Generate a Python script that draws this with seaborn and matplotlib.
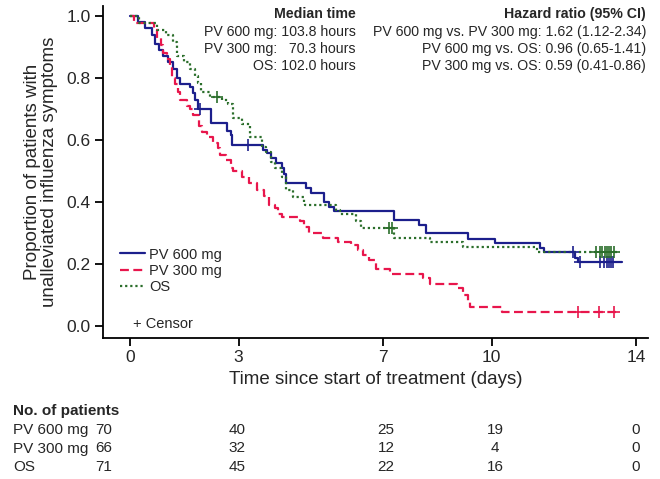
import numpy as np
import pandas as pd
import matplotlib
matplotlib.use("Agg")
import matplotlib.pyplot as plt
import seaborn as sns
from matplotlib.lines import Line2D
from matplotlib import font_manager

sns.set_theme(style="ticks")
plt.rcParams['font.family'] = ['Liberation Sans', 'DejaVu Sans']

# ---- data ----
pv600_t = [0, 0.22, 0.4, 0.6, 0.69, 0.8, 0.92, 1.05, 1.2, 1.3, 1.39, 1.67, 1.75, 1.8, 1.88,
           2.25, 2.69, 2.78, 2.83, 3.67, 3.8, 3.9, 4.05, 4.2, 4.25, 4.3, 4.86, 5.0, 5.36, 5.5,
           5.64, 7.3, 8.0, 8.2, 9.36, 10.1, 11.33, 11.45, 12.3, 12.4, 13.6]
pv600_s = [1.0, 0.98, 0.96, 0.94, 0.91, 0.89, 0.87, 0.85, 0.83, 0.80, 0.78, 0.77, 0.75, 0.73, 0.70,
           0.655, 0.63, 0.615, 0.584, 0.568, 0.558, 0.542, 0.526, 0.51, 0.49, 0.46, 0.445, 0.43, 0.40, 0.385,
           0.37, 0.343, 0.326, 0.30, 0.28, 0.267, 0.25, 0.238, 0.22, 0.206, 0.206]
pv600_cens_t = [1.94, 3.25, 12.25, 12.45, 13.0, 13.1, 13.2, 13.25, 13.3, 13.35]
pv600_cens_s = [0.70, 0.584, 0.238, 0.206, 0.206, 0.206, 0.206, 0.206, 0.206, 0.206]

pv300_t = [0, 0.1, 0.65, 0.75, 0.85, 0.92, 1.02, 1.1, 1.17, 1.25, 1.33, 1.39, 1.58, 1.65, 1.75,
           1.9, 2.0, 2.13, 2.28, 2.42, 2.5, 2.64, 2.78, 2.86, 3.1, 3.3, 3.5, 3.7, 3.85, 4.0,
           4.1, 4.2, 4.7, 4.8, 4.95, 5.35, 5.75, 6.1, 6.3, 6.45, 6.6, 6.8, 7.2, 8.1, 8.3,
           9.05, 9.2, 9.35, 9.4, 10.3, 13.45]
pv300_s = [1.0, 0.977, 0.955, 0.93, 0.905, 0.88, 0.86, 0.84, 0.80, 0.78, 0.755, 0.73, 0.71, 0.70, 0.68,
           0.645, 0.625, 0.61, 0.59, 0.575, 0.55, 0.535, 0.51, 0.50, 0.48, 0.46, 0.44, 0.42, 0.39, 0.38,
           0.36, 0.35, 0.34, 0.32, 0.30, 0.284, 0.27, 0.26, 0.245, 0.23, 0.213, 0.184, 0.168, 0.155, 0.135,
           0.123, 0.10, 0.08, 0.061, 0.045, 0.045]
pv300_cens_t = [12.4, 12.97, 13.4]
pv300_cens_s = [0.045, 0.045, 0.045]

os_t = [0, 0.25, 0.75, 1.0, 1.2, 1.3, 1.5, 1.65, 1.8, 1.88, 1.95, 2.2, 2.55, 2.7, 2.85,
        3.1, 3.33, 3.65, 3.75, 3.9, 4.0, 4.2, 4.3, 4.5, 4.8, 4.85, 5.7, 5.8, 6.25, 6.4,
        7.3, 8.3, 9.2, 11.25, 13.55]
os_s = [1.0, 0.977, 0.955, 0.94, 0.915, 0.87, 0.85, 0.83, 0.805, 0.785, 0.755, 0.74, 0.73, 0.715, 0.67,
        0.65, 0.61, 0.577, 0.56, 0.53, 0.51, 0.48, 0.44, 0.416, 0.40, 0.39, 0.375, 0.36, 0.34, 0.316,
        0.284, 0.27, 0.255, 0.24, 0.24]
os_cens_t = [2.4, 7.15, 7.25, 12.9, 13.0, 13.05, 13.15, 13.2, 13.25, 13.3, 13.4]
os_cens_s = [0.74, 0.316, 0.316, 0.24, 0.24, 0.24, 0.24, 0.24, 0.24, 0.24, 0.24]

x_ticks = [0, 3, 7, 10, 14]
y_ticks = [0.0, 0.2, 0.4, 0.6, 0.8, 1.0]

groups = ["PV 600 mg", "PV 300 mg", "OS"]
risk_pv600 = [70, 40, 25, 19, 0]
risk_pv300 = [66, 32, 12, 4, 0]
risk_os = [71, 45, 22, 16, 0]

median_lines = ["PV 600 mg: 103.8 hours", "PV 300 mg:   70.3 hours", "OS: 102.0 hours"]
hr_lines = ["PV 600 mg vs. PV 300 mg: 1.62 (1.12-2.34)",
            "PV 600 mg vs. OS: 0.96 (0.65-1.41)",
            "PV 300 mg vs. OS: 0.59 (0.41-0.86)"]

col_blue = "#1c1f8c"
col_red = "#e8164c"
col_green = "#2b6e2b"

installed = {f.name for f in font_manager.fontManager.ttflist}
narrow = ['Liberation Sans Narrow', 'Liberation Sans'] if 'Liberation Sans Narrow' in installed else ['Liberation Sans']
table_fs = 12.5 if 'Liberation Sans Narrow' in installed else 11

W, H = 660, 479
fig = plt.figure(figsize=(W / 100, H / 100), dpi=100)
ax = fig.add_axes([103 / W, 1 - 338 / H, (648 - 103) / W, (338 - 6) / H])

def fx(px):
    return px / W

def fy(py):
    return 1 - py / H

series = [
    (pv600_t, pv600_s, pv600_cens_t, pv600_cens_s, col_blue, "-", "PV 600 mg"),
    (pv300_t, pv300_s, pv300_cens_t, pv300_cens_s, col_red, (0, (4, 2)), "PV 300 mg"),
    (os_t, os_s, os_cens_t, os_cens_s, col_green, (0, (1, 1.3)), "OS"),
]
for t, s, ct, cs, c, ls, name in series:
    df = pd.DataFrame({"t": t, "s": s})
    sns.lineplot(data=df, x="t", y="s", ax=ax, color=c, linestyle=ls, linewidth=1.6,
                 drawstyle="steps-post", estimator=None, sort=False, legend=False)
    dc = pd.DataFrame({"t": ct, "s": cs})
    sns.scatterplot(data=dc, x="t", y="s", ax=ax, color=c, marker="+", s=70,
                    linewidth=1.2, legend=False, zorder=5)

ax.set_xlim(-0.75, 14.33)
ax.set_ylim(-0.039, 1.032)
ax.set_xticks(x_ticks)
ax.set_xticklabels([str(v) for v in x_ticks], fontsize=12.5)
ax.set_yticks(y_ticks)
ax.set_yticklabels([f"{v:.1f}" for v in y_ticks], fontsize=12.5)
ax.tick_params(direction="out", length=6, width=1.3, color="black", pad=3)
for sp in ["top", "right"]:
    ax.spines[sp].set_visible(False)
for sp in ["left", "bottom"]:
    ax.spines[sp].set_linewidth(1.3)
    ax.spines[sp].set_color("black")
ax.set_xlabel("Time since start of treatment (days)", fontsize=13.5, labelpad=4)
ax.set_ylabel("Proportion of patients with\nunalleviated influenza symptoms", fontsize=13.5,
              labelpad=6, linespacing=1.0)

# legend
handles = [Line2D([], [], color=col_blue, linestyle="-", linewidth=1.6),
           Line2D([], [], color=col_red, linestyle=(0, (4, 2)), linewidth=1.6),
           Line2D([], [], color=col_green, linestyle=(0, (1, 1.3)), linewidth=1.6)]
leg = ax.legend(handles, groups, loc="upper left", bbox_to_anchor=(0.02, 0.29),
                frameon=False, fontsize=10.5, handlelength=1.7, handletextpad=0.3,
                labelspacing=0.15, borderaxespad=0)
fig.text(fx(133), fy(324), "+ Censor", fontsize=10.5, va="center", ha="left")

# annotations
ann_fs = 10.2
fig.text(fx(356), fy(14), "Median time", fontsize=ann_fs, fontweight="bold", ha="right", va="center")
for i, line in enumerate(median_lines):
    fig.text(fx(356), fy(32 + i * 17), line, fontsize=ann_fs, ha="right", va="center")
fig.text(fx(646), fy(14), "Hazard ratio (95% CI)", fontsize=ann_fs, fontweight="bold", ha="right", va="center")
for i, line in enumerate(hr_lines):
    fig.text(fx(646), fy(32 + i * 17), line, fontsize=ann_fs, ha="right", va="center")

# risk table
fig.text(fx(13), fy(411), "No. of patients", fontsize=table_fs, fontweight="bold",
         ha="left", va="center", family=narrow)
risk_x = [104, 237, 386, 495, 636]
for r, (g, vals) in enumerate(zip(groups, [risk_pv600, risk_pv300, risk_os])):
    y = fy(430 + r * 18.5)
    fig.text(fx(13), y, g, fontsize=table_fs, ha="left", va="center", family=narrow)
    for xp, v in zip(risk_x, vals):
        fig.text(fx(xp), y, str(v), fontsize=table_fs, ha="center", va="center", family=narrow)

fig.savefig("out.png", dpi=100)
